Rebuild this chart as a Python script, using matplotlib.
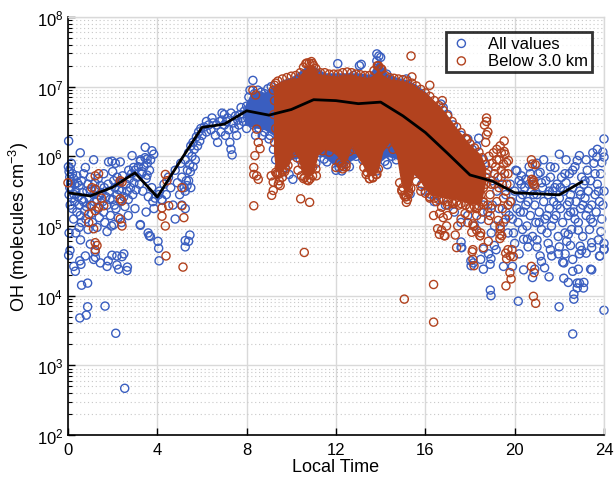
import numpy as np
import matplotlib
matplotlib.use("Agg")
import matplotlib.pyplot as plt
from matplotlib.ticker import FixedLocator, NullFormatter, LogFormatterMathtext

plt.rcParams['font.family'] = ['Liberation Sans', 'DejaVu Sans']
plt.rcParams['mathtext.fontset'] = 'custom'
plt.rcParams['mathtext.rm'] = 'Liberation Sans'
plt.rcParams['mathtext.it'] = 'Liberation Sans:italic'
plt.rcParams['mathtext.bf'] = 'Liberation Sans:bold'

# ---------------- data (hour, log10 OH) ----------------
mean_hours = list(range(24))
mean_oh = [3.0e5, 2.7e5, 3.6e5, 5.8e5, 2.6e5, 8.3e5, 2.6e6, 2.9e6, 4.5e6, 3.9e6,
           4.7e6, 6.5e6, 6.3e6, 5.7e6, 6.0e6, 3.8e6, 2.2e6, 1.1e6, 5.4e5, 4.4e5,
           3.0e5, 2.9e5, 2.8e5, 4.3e5]

x_ticks = [0, 4, 8, 12, 16, 20, 24]
y_ticks = [1e2, 1e3, 1e4, 1e5, 1e6, 1e7, 1e8]

# envelope of the densely over-plotted daytime cloud (all values)
blue_env_h = [7.9, 8.2, 8.5, 8.8, 9.2, 9.6, 10.0, 10.6, 11.0, 11.5, 12.0, 12.5, 13.0,
              13.5, 13.9, 14.3, 14.8, 15.2, 15.6, 16.0, 16.3, 16.6]
blue_env_hi = [6.72, 6.92, 6.95, 6.92, 7.02, 7.1, 7.14, 7.28, 7.3, 7.2, 7.2, 7.2, 7.2,
               7.18, 7.4, 7.18, 7.13, 7.1, 7.03, 6.93, 6.83, 6.7]
blue_env_lo = [6.45, 6.42, 6.4, 6.38, 6.3, 6.0, 5.95, 6.0, 6.05, 5.98, 5.85, 5.9, 6.0,
               5.88, 5.9, 6.0, 5.95, 5.85, 5.7, 5.6, 5.55, 5.5]

# envelope of the densely over-plotted daytime cloud (below 3.0 km)
orange_env_h = [9.2, 9.3, 9.55, 9.9, 10.1, 10.3, 10.5, 10.8, 11.0, 11.2, 11.5, 11.8, 12.0,
                12.3, 12.5, 12.7, 13.0, 13.2, 13.4, 13.7, 13.9, 14.1, 14.4, 14.7, 14.9,
                15.1, 15.3, 15.5, 15.7, 16.0, 16.3, 16.6, 16.9, 17.4, 17.95, 18.5, 18.7]
orange_env_hi = [7.0, 7.04, 7.08, 7.11, 7.12, 7.13, 7.22, 7.3, 7.31, 7.19, 7.17, 7.16, 7.15,
                 7.17, 7.17, 7.18, 7.15, 7.14, 7.13, 7.17, 7.25, 7.17, 7.11, 7.1, 7.09,
                 7.08, 7.05, 7.03, 6.97, 6.92, 6.83, 6.74, 6.63, 6.41, 6.19, 6.02, 5.85]
orange_env_lo = [6.05, 5.8, 5.78, 5.88, 6.07, 5.97, 5.74, 5.71, 5.76, 6.02, 6.1, 6.07, 6.02,
                 5.9, 5.94, 6.14, 5.97, 5.87, 5.74, 5.72, 5.8, 6.07, 6.2, 6.02, 5.62,
                 5.47, 5.52, 5.74, 5.68, 5.52, 5.44, 5.42, 5.4, 5.38, 5.32, 5.32, 5.62]

blue_night = [
    (0.02, 5.85), (0.05, 5.78), (0.08, 5.7), (0.1, 5.82), (0.12, 5.62), (0.15, 5.55), (0.05, 5.45),
    (0.18, 5.4), (0.1, 5.3), (0.2, 5.25), (0.25, 5.68), (0.3, 5.6), (0.35, 5.5), (0.3, 5.35),
    (0.4, 5.2), (0.45, 5.42), (0.5, 5.3), (0.55, 5.15), (0.6, 5.05), (0.5, 5.58), (0.6, 5.65),
    (0.65, 5.48), (0.7, 5.35), (0.75, 5.22), (0.8, 5.1), (0.85, 5.5), (0.9, 5.6), (0.95, 5.4),
    (1.0, 5.3), (1.05, 5.18), (1.1, 5.05), (1.15, 5.45), (1.2, 5.62), (1.25, 5.52), (1.3, 5.38),
    (1.35, 5.25), (1.4, 5.12), (1.45, 5.58), (1.5, 5.48), (1.55, 5.35), (1.6, 5.2), (1.65, 5.05),
    (1.7, 5.42), (1.75, 5.3), (1.8, 5.6), (1.85, 5.5), (1.9, 5.15), (1.95, 5.0), (2.0, 5.38),
    (2.05, 5.65), (2.1, 5.55), (2.15, 5.25), (2.2, 5.45), (2.25, 5.12), (2.3, 5.62), (2.35, 5.35),
    (2.4, 5.5), (2.45, 5.72), (2.5, 5.42), (2.55, 5.28), (2.6, 5.6), (2.65, 5.5), (2.7, 5.38),
    (2.75, 5.68), (2.8, 5.55), (2.85, 5.75), (2.9, 5.45), (2.95, 5.62), (3.0, 5.8), (3.05, 5.52),
    (3.1, 5.7), (3.15, 5.85), (3.2, 5.6), (3.25, 5.95), (3.3, 5.75), (3.35, 5.5), (3.4, 5.85),
    (3.45, 5.98), (3.5, 5.68), (3.55, 5.9), (3.6, 5.42), (3.65, 5.8), (3.7, 5.95), (3.75, 5.55),
    (3.8, 5.35), (3.85, 5.25), (3.9, 5.4), (0.03, 6.22), (0.55, 6.05), (1.15, 5.95), (1.82, 5.92),
    (1.97, 5.93), (2.12, 5.9), (2.34, 5.92), (2.87, 6.01), (3.46, 6.13), (3.76, 6.08), (3.84, 6.03),
    (3.24, 5.93), (3.54, 5.96), (0.2, 5.75), (0.78, 5.84), (2.72, 5.8), (2.94, 5.84), (3.31, 5.78),
    (3.54, 5.73), (0.15, 5.9), (0.4, 5.72), (0.7, 5.75), (1.0, 5.7), (1.35, 5.68), (1.6, 5.75),
    (2.0, 5.78), (2.2, 5.7), (0.25, 5.1), (0.5, 4.98), (0.9, 4.95), (1.3, 4.98), (1.75, 4.92),
    (2.05, 5.02), (2.4, 5.05), (2.7, 5.15), (3.0, 5.25), (3.24, 5.02), (3.5, 5.2), (0.35, 4.9),
    (0.08, 5.55), (0.28, 5.45), (0.42, 5.62), (0.62, 5.38), (0.82, 5.28), (1.02, 5.52),
    (1.18, 5.35), (1.42, 5.44), (1.62, 5.55), (1.88, 5.38), (2.08, 5.3), (2.28, 5.52),
]

blue_low = [
    (0.05, 4.9), (0.09, 4.65), (0.26, 4.42), (0.53, 4.5), (0.61, 4.15), (0.88, 4.18), (0.53, 3.68),
    (0.82, 3.72), (0.88, 3.84), (1.66, 3.85), (2.14, 3.46), (2.54, 2.67), (1.23, 4.55), (1.8, 4.5),
    (2.19, 4.57), (2.5, 4.6), (2.66, 4.41), (2.19, 4.44), (0.56, 4.8), (1.0, 4.74), (3.59, 4.9),
    (4.03, 4.78), (4.08, 4.5), (5.25, 4.79), (5.46, 4.87), (0.33, 4.35), (0.58, 4.45), (1.45, 4.47),
    (1.75, 4.42), (2.27, 4.38), (2.64, 4.36), (0.03, 4.58), (0.78, 4.57), (3.64, 4.86), (1.15, 4.52),
    (4.06, 5.45), (4.21, 5.37), (4.8, 5.1), (5.4, 4.78), (5.25, 4.7), (4.06, 4.68), (3.69, 4.85),
    (3.24, 5.01), (2.42, 4.56), (1.97, 4.58), (1.22, 4.63),
    (18.94, 4.0), (20.16, 3.92), (21.99, 3.84), (22.6, 3.45), (24.0, 3.79), (22.65, 4.02),
    (22.65, 3.95), (22.8, 4.11), (22.9, 4.18), (22.2, 4.25), (22.4, 4.19), (22.8, 4.18),
    (22.6, 4.35), (22.85, 4.38), (23.4, 4.38), (21.54, 4.27), (20.8, 4.26), (21.34, 4.4),
    (21.2, 4.49), (21.66, 4.57), (21.96, 4.6), (22.26, 4.6), (22.15, 4.48), (22.9, 4.6),
    (23.2, 4.61), (23.8, 4.57), (24.0, 4.66), (18.6, 4.38), (18.9, 4.45), (18.94, 4.53),
    (18.05, 4.43), (18.15, 4.47), (17.6, 4.69), (18.6, 4.67), (19.17, 4.66), (17.63, 4.69),
    (23.1, 4.19), (23.08, 4.11), (23.45, 4.37), (23.82, 4.57), (20.4, 4.81), (20.57, 4.81),
    (21.0, 4.7), (22.33, 4.78), (22.93, 4.71), (23.45, 4.76), (22.4, 4.88), (22.85, 4.94),
    (23.86, 4.92), (20.9, 4.38), (20.2, 4.6), (19.9, 4.42), (19.5, 4.42),
]

blue_morning = [
    (4.1, 5.5), (4.2, 5.38), (4.3, 5.6), (4.4, 5.45), (4.5, 5.7), (4.6, 5.55), (4.7, 5.3),
    (4.8, 5.8), (4.9, 5.62), (5.0, 5.45), (5.05, 5.9), (5.1, 5.7), (5.2, 5.55), (5.25, 5.95),
    (5.3, 5.65), (5.35, 5.8), (5.4, 6.05), (5.45, 5.88), (5.5, 6.15), (5.55, 6.0), (5.6, 6.2),
    (5.65, 6.1), (5.7, 5.95), (5.75, 6.28), (5.8, 6.15), (5.85, 6.35), (5.9, 6.22), (5.95, 6.4),
    (6.0, 6.3), (6.1, 6.42), (6.2, 6.35), (6.3, 6.45), (6.4, 6.38), (6.5, 6.48), (6.6, 6.3),
    (6.65, 6.45), (6.7, 6.2), (6.8, 6.5), (6.85, 6.35), (6.9, 6.52), (7.0, 6.45), (7.05, 6.3),
    (7.1, 6.5), (7.15, 6.55), (7.2, 6.38), (7.25, 6.2), (7.3, 6.1), (7.35, 6.02), (7.4, 6.48),
    (7.5, 6.58), (7.6, 6.52), (7.7, 6.6), (7.8, 6.55), (7.9, 6.65), (8.0, 6.72), (8.1, 6.85),
    (8.15, 6.95), (8.28, 7.09), (5.48, 5.78), (5.4, 5.65), (5.33, 5.58), (5.25, 5.5), (5.1, 5.3),
    (5.25, 5.25), (5.5, 5.55), (5.6, 5.85), (6.2, 6.5), (6.45, 6.55), (7.0, 6.6), (7.45, 6.4),
    (7.55, 6.3), (7.65, 6.45), (7.75, 6.7), (7.85, 6.5), (8.0, 6.4), (8.4, 6.3), (8.7, 6.3),
    (9.0, 6.25), (9.3, 5.95), (9.2, 6.1), (7.3, 6.62), (6.9, 6.62),
    (8.05, 6.55), (8.2, 6.75), (8.35, 6.9), (8.5, 6.95), (8.65, 6.92), (8.8, 6.9), (8.95, 6.97),
    (9.1, 7.0), (8.3, 6.45), (8.55, 6.4), (8.8, 6.35), (9.05, 6.3),
]

blue_day = [
    (12.08, 7.33), (13.05, 7.3), (13.13, 7.32), (13.83, 7.47), (13.92, 7.44), (14.0, 7.42),
    (13.83, 7.37), (14.27, 7.18), (15.15, 7.11), (12.78, 7.16), (11.3, 6.05), (11.47, 5.96),
    (11.82, 6.07), (12.08, 5.98), (12.35, 5.91), (12.26, 5.79), (12.14, 5.84), (9.72, 5.84),
    (9.9, 5.74), (10.07, 5.67), (13.83, 5.79), (14.19, 5.93), (14.62, 6.07), (15.32, 5.84),
    (15.32, 5.46), (15.85, 5.6), (15.94, 5.74), (16.2, 5.46), (16.55, 5.44), (15.94, 6.47),
    (16.8, 6.7), (17.25, 6.45), (17.6, 6.3), (18.39, 6.26), (18.3, 6.14), (16.7, 6.75),
    (17.0, 6.6), (17.9, 6.25), (18.1, 6.1), (18.6, 5.95), (18.8, 5.8), (16.9, 5.3), (17.3, 5.2),
    (17.6, 5.05), (17.9, 5.15), (18.2, 5.0), (18.5, 5.1), (18.8, 5.2), (19.0, 5.3), (19.1, 5.0),
    (17.6, 4.77), (18.04, 4.5), (18.48, 4.52), (18.83, 4.6), (18.91, 4.08), (19.09, 4.72),
    (12.5, 6.1), (13.1, 6.05), (10.4, 5.95), (11.1, 5.9), (16.0, 5.5), (16.4, 5.35),
    (9.5, 5.9), (12.9, 6.0), (14.5, 6.0), (18.35, 5.4), (18.6, 5.3), (19.2, 5.5), (19.4, 5.7),
    (11.6, 5.92), (12.0, 5.8), (12.6, 5.85), (13.2, 5.95), (14.3, 5.88), (14.7, 5.95),
    (19.0, 5.65), (19.3, 5.25), (19.6, 5.45), (19.75, 5.15), (18.95, 4.9), (19.5, 5.05),
]

blue_evening = [
    (19.8, 5.6), (19.85, 5.35), (19.9, 5.1), (19.95, 4.9), (20.0, 5.5), (20.05, 5.8),
    (20.1, 5.25), (20.15, 5.05), (20.2, 5.65), (20.25, 5.4), (20.3, 5.72), (20.35, 4.95),
    (20.4, 5.2), (20.45, 5.55), (20.5, 5.67), (20.55, 5.0), (20.6, 5.35), (20.65, 5.85),
    (20.7, 5.15), (20.75, 5.5), (20.8, 4.85), (20.85, 5.6), (20.9, 5.3), (20.95, 5.05),
    (21.0, 5.45), (21.05, 5.75), (21.1, 5.2), (21.14, 5.77), (21.2, 4.95), (21.25, 5.55),
    (21.3, 5.35), (21.35, 5.1), (21.4, 5.65), (21.45, 4.9), (21.5, 5.45), (21.55, 5.25),
    (21.6, 5.7), (21.65, 5.0), (21.7, 5.5), (21.75, 5.35), (21.8, 5.84), (21.85, 5.15),
    (21.9, 5.6), (21.95, 4.85), (22.0, 6.03), (22.0, 5.4), (22.05, 5.25), (22.1, 5.7),
    (22.15, 5.05), (22.2, 5.5), (22.25, 4.9), (22.3, 5.62), (22.35, 5.3), (22.4, 5.15),
    (22.45, 5.75), (22.5, 5.45), (22.55, 4.95), (22.6, 5.55), (22.65, 5.2), (22.7, 5.85),
    (22.75, 5.35), (22.8, 5.94), (22.85, 5.05), (22.9, 6.01), (22.9, 5.5), (22.95, 5.25),
    (23.0, 5.7), (23.05, 4.85), (23.1, 5.6), (23.15, 5.4), (23.2, 5.15), (23.25, 5.8),
    (23.3, 5.5), (23.35, 4.95), (23.4, 5.65), (23.45, 5.3), (23.5, 5.05), (23.55, 5.9),
    (23.6, 5.45), (23.65, 5.2), (23.68, 5.99), (23.7, 5.6), (23.75, 4.8), (23.8, 5.35),
    (23.85, 5.75), (23.9, 5.91), (23.95, 6.06), (23.9, 5.1), (24.0, 6.25), (24.0, 5.99),
    (24.0, 5.5), (24.0, 4.75), (23.95, 5.3), (20.1, 5.79), (20.3, 5.6), (20.5, 5.3),
    (20.7, 5.75), (21.0, 5.9), (21.3, 5.95), (21.6, 5.85), (22.3, 5.95), (22.6, 5.8),
    (23.2, 5.95), (23.5, 6.05), (23.7, 6.1), (20.0, 4.75), (20.6, 4.7), (21.0, 4.8),
    (21.5, 4.75), (22.0, 4.7), (22.5, 4.72), (23.0, 4.65), (23.45, 4.69), (24.0, 4.67),
    (22.6, 4.52), (22.2, 4.47), (21.6, 4.66), (21.14, 4.57), (20.4, 4.37), (19.6, 5.2),
    (19.7, 4.9), (21.8, 5.55), (22.45, 5.35), (23.15, 5.65), (23.6, 5.75), (21.2, 5.62),
    (20.85, 5.45), (22.7, 5.1), (23.3, 5.25), (21.9, 5.3), (20.35, 5.45), (21.45, 5.15),
    (20.25, 5.2), (20.65, 5.6), (21.1, 5.05), (21.55, 5.5), (22.05, 5.55), (22.5, 5.2),
    (22.95, 5.45), (23.4, 5.1), (23.75, 5.5), (21.75, 5.1), (22.25, 5.75), (23.05, 5.3),
]

orange_night = [
    (1.22, 5.72), (1.37, 5.75), (1.07, 5.55), (1.22, 5.53), (2.34, 5.65), (2.42, 5.63),
    (2.34, 5.39), (2.42, 5.36), (1.07, 5.29), (1.37, 5.27), (1.22, 5.22), (0.93, 5.17),
    (1.6, 5.29), (0.93, 5.05), (1.15, 4.96), (2.34, 5.1), (2.42, 5.0), (4.36, 5.74),
    (4.43, 5.65), (4.21, 5.26), (4.51, 5.29), (4.21, 5.14), (4.36, 5.0), (5.1, 5.55),
    (5.1, 5.29), (5.19, 5.12), (1.22, 4.76), (1.3, 4.72), (1.22, 4.66), (4.39, 4.57),
    (5.15, 4.41), (10.58, 4.62), (0.0, 5.62), (1.5, 5.4),
]

orange_day = [
    (8.45, 6.39), (8.52, 6.2), (8.6, 6.11), (8.37, 6.01), (8.45, 5.72), (8.52, 5.67),
    (9.19, 5.63), (9.42, 5.6), (9.5, 5.58), (9.12, 5.44), (8.32, 5.84), (8.32, 5.74),
    (8.32, 5.29), (9.1, 5.72), (9.19, 5.51), (9.46, 5.65), (10.42, 5.39), (10.82, 5.34),
    (8.4, 6.88), (8.28, 6.95), (9.3, 7.05), (9.4, 6.95), (9.6, 5.7), (9.7, 5.78), (9.35, 5.75),
    (10.5, 5.88), (10.95, 5.84), (11.12, 5.72), (10.77, 5.65), (9.55, 5.93), (9.46, 5.84),
    (10.6, 5.7), (10.3, 5.8), (12.0, 5.84), (12.17, 5.91), (12.35, 6.17), (12.6, 6.07),
    (13.4, 5.77), (13.83, 5.74), (13.5, 5.68), (13.65, 5.7), (12.45, 5.85), (12.3, 5.82),
    (15.36, 7.44), (15.4, 7.14), (16.76, 6.8), (16.2, 7.02), (15.0, 5.55), (15.1, 5.42),
    (15.2, 5.38), (15.15, 5.34), (15.15, 5.72), (15.24, 5.55), (15.24, 5.5), (14.95, 5.5),
    (10.9, 7.36), (10.7, 7.34), (11.0, 7.3), (13.9, 7.3), (14.05, 7.25), (9.25, 7.02),
    (16.5, 5.35), (17.0, 5.3), (17.5, 5.3), (18.0, 5.25), (18.3, 5.25), (18.6, 5.35),
    (16.2, 5.4), (15.8, 5.5),
]

# rings along the edges of the dense daytime cloud (below 3.0 km)
orange_edge = [
    (9.2, 6.95), (9.25, 6.8), (9.22, 6.6), (9.3, 6.4), (9.25, 6.2), (9.4, 7.08), (9.6, 7.11),
    (9.8, 7.13), (10.0, 7.15), (10.2, 7.16), (10.4, 7.2), (10.55, 7.28), (10.65, 7.33),
    (10.8, 7.34), (10.95, 7.33), (11.1, 7.26), (11.3, 7.2), (11.5, 7.2), (11.7, 7.18),
    (11.9, 7.18), (12.1, 7.18), (12.3, 7.2), (12.5, 7.21), (12.7, 7.2), (12.9, 7.18),
    (13.1, 7.17), (13.3, 7.16), (13.5, 7.16), (13.7, 7.23), (13.85, 7.3), (14.0, 7.26),
    (14.2, 7.16), (14.4, 7.13), (14.6, 7.12), (14.8, 7.11), (15.0, 7.1), (15.2, 7.08),
    (15.4, 7.05), (15.6, 7.01), (15.8, 6.96), (16.0, 6.91), (16.2, 6.86), (16.4, 6.8),
    (16.6, 6.73), (16.8, 6.66), (17.0, 6.58), (17.2, 6.5), (17.4, 6.42), (17.6, 6.34),
    (17.8, 6.26), (18.0, 6.18), (18.2, 6.12), (18.4, 6.06), (18.55, 5.98), (18.7, 5.88),
    (18.75, 5.75), (18.7, 5.6),
    (9.3, 5.77), (9.4, 5.74), (9.5, 5.76), (9.6, 5.78), (9.75, 5.82), (9.85, 5.87),
    (10.45, 5.72), (10.55, 5.68), (10.7, 5.66), (10.85, 5.68), (10.95, 5.72), (11.1, 5.82),
    (12.25, 5.87), (12.35, 5.85), (12.45, 5.89), (13.25, 5.84), (13.35, 5.74), (13.5, 5.68),
    (13.65, 5.69), (13.8, 5.74), (13.9, 5.82), (14.85, 5.62), (14.95, 5.52), (15.05, 5.44),
    (15.15, 5.42), (15.25, 5.47), (15.35, 5.54), (15.6, 5.64), (15.8, 5.57), (16.0, 5.47),
    (16.2, 5.42), (16.4, 5.4), (16.6, 5.38), (16.8, 5.37), (17.0, 5.35), (17.2, 5.34),
    (17.4, 5.35), (17.6, 5.32), (17.8, 5.3), (18.0, 5.27), (18.2, 5.28), (18.4, 5.29),
    (18.6, 5.34), (11.4, 6.08), (11.7, 6.06), (12.8, 6.1), (14.3, 6.18), (14.55, 6.1),
    (10.15, 6.05), (10.25, 5.98),
]

orange_evening = [
    (18.74, 6.55), (18.74, 6.5), (18.65, 6.45), (18.74, 6.31), (17.86, 6.24), (19.53, 6.22),
    (19.53, 6.07), (20.75, 5.95), (20.84, 5.65), (15.06, 3.95), (16.37, 4.16), (16.37, 3.62),
    (16.37, 5.15), (16.64, 5.18), (16.73, 5.27), (16.55, 4.96), (16.73, 4.94), (17.34, 4.87),
    (17.25, 5.32), (17.78, 5.18), (18.13, 5.03), (18.13, 4.66), (18.13, 4.52), (18.3, 4.94),
    (18.48, 4.9), (18.83, 5.08), (19.26, 5.08), (19.35, 4.96), (19.7, 4.66), (19.6, 4.61),
    (19.79, 4.33), (19.88, 4.66), (19.61, 4.14), (20.84, 3.99), (20.75, 4.42), (20.92, 5.88),
    (20.84, 5.6), (19.57, 6.03), (19.64, 5.91), (19.72, 5.94), (19.5, 5.89), (20.8, 5.89),
    (20.8, 5.63), (20.9, 5.58), (20.77, 5.67), (17.25, 5.24), (16.8, 5.12), (16.88, 4.86),
    (18.15, 5.0), (18.45, 4.86), (18.6, 4.69), (19.35, 5.0), (19.42, 4.86), (19.8, 4.57),
    (17.4, 4.69), (19.2, 6.1), (19.3, 5.95), (19.4, 5.8), (19.25, 5.7), (19.45, 5.6),
    (19.6, 5.5), (19.15, 5.85), (19.35, 6.15), (19.7, 5.75), (19.0, 5.9), (19.1, 5.6),
    (18.9, 5.45), (19.5, 5.4), (18.7, 5.7), (18.85, 6.0), (18.7, 6.2), (18.8, 6.35),
    (18.6, 5.55), (18.5, 5.45), (18.95, 5.25), (19.8, 5.35), (16.63, 4.88), (16.85, 4.86),
    (18.1, 4.63), (18.18, 4.43), (19.84, 4.24), (19.64, 4.53), (19.94, 4.56), (20.94, 3.89),
    (20.87, 4.33), (19.34, 4.88), (19.34, 4.82), (18.82, 4.78), (18.45, 4.86), (18.08, 4.91),
    (19.05, 6.05), (19.2, 5.95), (19.4, 6.05), (19.55, 5.75), (19.65, 5.6), (19.3, 5.55),
    (19.1, 5.75), (18.95, 5.6), (19.45, 5.25), (19.2, 5.35), (18.8, 5.3), (19.7, 5.3),
    (18.9, 5.15), (19.6, 5.1), (17.0, 5.15), (17.6, 5.1), (17.9, 5.05), (18.3, 5.15),
    (18.55, 5.2), (16.95, 5.0), (17.45, 5.0),
]

BLUE = '#3A5EC0'
ORANGE = '#B2421E'

fig = plt.figure(figsize=(6.14, 4.81), dpi=100)
ax = fig.add_axes([0.1107, 0.0936, 0.8730, 0.8690])

def pts(lst):
    a = np.array(lst, dtype=float)
    return a[:, 0], 10 ** a[:, 1]

ms = 34
lw = 1.0

# blue (all values)
ax.fill_between(blue_env_h, 10 ** np.array(blue_env_hi), 10 ** np.array(blue_env_lo),
                color=BLUE, lw=0, zorder=2)
for grp in [blue_night, blue_low, blue_morning, blue_day, blue_evening]:
    x, y = pts(grp)
    ax.scatter(x, y, s=ms, facecolors='none', edgecolors=BLUE, linewidths=lw, zorder=2,
               clip_on=False)

# orange (below 3 km)
ax.fill_between(orange_env_h, 10 ** np.array(orange_env_hi), 10 ** np.array(orange_env_lo),
                color=ORANGE, lw=0, zorder=3)
for grp in [orange_night, orange_day, orange_edge, orange_evening]:
    x, y = pts(grp)
    ax.scatter(x, y, s=ms, facecolors='none', edgecolors=ORANGE, linewidths=lw, zorder=3,
               clip_on=False)

ax.plot(mean_hours, mean_oh, color='black', lw=2.0, zorder=5)

# legend handles
h1 = ax.scatter([], [], s=ms, facecolors='none', edgecolors=BLUE, linewidths=lw)
h2 = ax.scatter([], [], s=ms, facecolors='none', edgecolors=ORANGE, linewidths=lw)
leg = ax.legend([h1, h2], ['All values', 'Below 3.0 km'], loc='upper right',
                bbox_to_anchor=(0.978, 0.965), frameon=True, fancybox=False,
                fontsize=12, handletextpad=0.9, borderpad=0.25, labelspacing=0.15,
                handlelength=1.4, borderaxespad=0)
leg.get_frame().set_edgecolor('black')
leg.get_frame().set_linewidth(2.0)
leg.set_zorder(10)

ax.set_yscale('log')
ax.set_xlim(0, 24)
ax.set_ylim(1e2, 1e8)
ax.set_xticks(x_ticks)
ax.yaxis.set_major_locator(FixedLocator(y_ticks))
ax.yaxis.set_major_formatter(LogFormatterMathtext())
minor_y = [m * d for d in y_ticks[:-1] for m in range(2, 10)]
ax.yaxis.set_minor_locator(FixedLocator(minor_y))
ax.yaxis.set_minor_formatter(NullFormatter())

ax.grid(True, which='major', color='#d9d9d9', lw=1.0, zorder=0)
ax.grid(True, which='minor', axis='y', color='#c8c8c8', lw=0.8, ls=(0, (1, 2.5)), zorder=0)
ax.set_axisbelow(True)

ax.tick_params(axis='both', which='major', direction='in', length=5, width=1,
               labelsize=12, colors='black')
ax.tick_params(axis='y', which='minor', direction='in', length=3, width=0.8)
ax.tick_params(axis='x', which='major', pad=5)
for s in ['left', 'bottom']:
    ax.spines[s].set_color('black')
    ax.spines[s].set_linewidth(1.2)
for s in ['top', 'right']:
    ax.spines[s].set_color('#d9d9d9')
    ax.spines[s].set_linewidth(1.0)

ax.set_xlabel('Local Time', fontsize=13, labelpad=1)
ax.set_ylabel('OH (molecules cm$^{-3}$)', fontsize=13, labelpad=4)

fig.savefig('out.png', dpi=100)
